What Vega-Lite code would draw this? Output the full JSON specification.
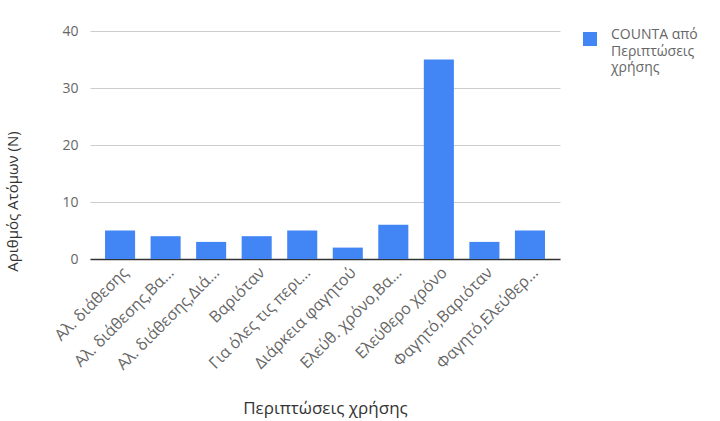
{
  "$schema": "https://vega.github.io/schema/vega-lite/v6.json",
  "autosize": "none",
  "width": 470,
  "height": 228,
  "padding": {"left": 90, "top": 31, "right": 160, "bottom": 162},
  "background": "white",
  "config": {
    "font": "Open Sans",
    "view": {"stroke": null},
    "style": {"guide-label": {"lineHeight": 16.5}}
  },
  "data": {
    "values": [
      {"case": "Αλ. διάθεσης", "count": 5, "series": "COUNTA από Περιπτώσεις χρήσης"},
      {"case": "Αλ. διάθεσης,Βα…", "count": 4, "series": "COUNTA από Περιπτώσεις χρήσης"},
      {"case": "Αλ. διάθεσης,Διά…", "count": 3, "series": "COUNTA από Περιπτώσεις χρήσης"},
      {"case": "Βαριόταν", "count": 4, "series": "COUNTA από Περιπτώσεις χρήσης"},
      {"case": "Για όλες τις περι…", "count": 5, "series": "COUNTA από Περιπτώσεις χρήσης"},
      {"case": "Διάρκεια φαγητού", "count": 2, "series": "COUNTA από Περιπτώσεις χρήσης"},
      {"case": "Ελεύθ. χρόνο,Βα…", "count": 6, "series": "COUNTA από Περιπτώσεις χρήσης"},
      {"case": "Ελεύθερο χρόνο", "count": 35, "series": "COUNTA από Περιπτώσεις χρήσης"},
      {"case": "Φαγητό,Βαριόταν", "count": 3, "series": "COUNTA από Περιπτώσεις χρήσης"},
      {"case": "Φαγητό,Ελεύθερ…", "count": 5, "series": "COUNTA από Περιπτώσεις χρήσης"}
    ]
  },
  "mark": {"type": "bar"},
  "encoding": {
    "x": {
      "field": "case",
      "type": "nominal",
      "sort": null,
      "scale": {"paddingInner": 0.34, "paddingOuter": 0.33},
      "axis": {
        "title": "Περιπτώσεις χρήσης",
        "titleFont": "Open Sans",
        "titleFontSize": 17,
        "titleFontWeight": "normal",
        "titleColor": "#333333",
        "titlePadding": 28,
        "labelAngle": -45,
        "labelAlign": "right",
        "labelBaseline": "top",
        "labelFontSize": 16,
        "labelColor": "#666666",
        "labelPadding": 5,
        "labelLimit": 250,
        "ticks": false,
        "domain": true,
        "domainColor": "#333333",
        "domainWidth": 1.5,
        "grid": false
      }
    },
    "y": {
      "field": "count",
      "type": "quantitative",
      "scale": {"domain": [0, 40], "nice": false},
      "axis": {
        "title": "Αριθμός Ατόμων (N)",
        "titleFont": "Open Sans",
        "titleFontSize": 15,
        "titleFontWeight": "normal",
        "titleColor": "#333333",
        "titleX": -70,
        "titleY": 170,
        "values": [0, 10, 20, 30, 40],
        "labelFontSize": 14,
        "labelColor": "#666666",
        "labelPadding": 12,
        "ticks": false,
        "tickSize": 0,
        "domain": false,
        "grid": true,
        "gridColor": "#cccccc"
      }
    },
    "color": {
      "field": "series",
      "type": "nominal",
      "scale": {"range": ["#4285f4"]},
      "legend": {
        "title": null,
        "orient": "none",
        "legendX": 493,
        "legendY": 1,
        "symbolType": "square",
        "symbolSize": 196,
        "symbolStrokeWidth": 0,
        "labelFontSize": 14,
        "labelColor": "#666666",
        "labelOffset": 14,
        "labelBaseline": "alphabetic",
        "labelLimit": 200,
        "labelExpr": "['COUNTA από', 'Περιπτώσεις', 'χρήσης']"
      }
    }
  }
}
